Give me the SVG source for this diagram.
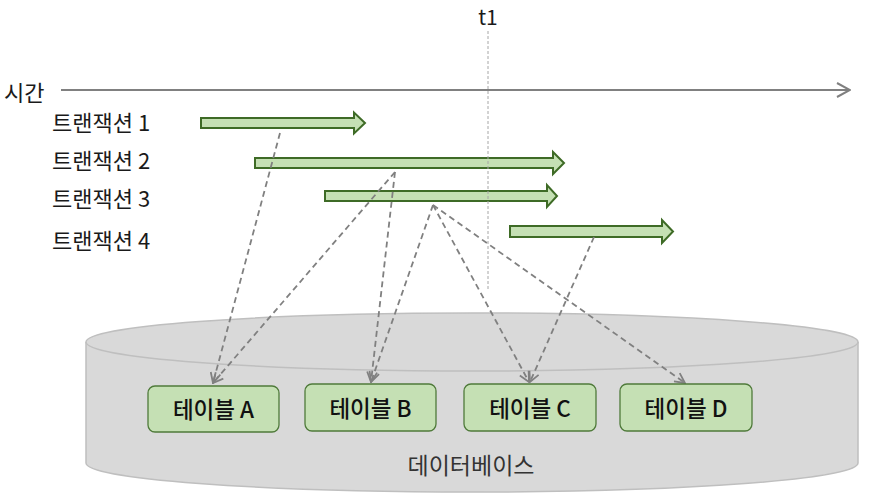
<svg xmlns="http://www.w3.org/2000/svg" width="872" height="498" viewBox="0 0 872 498">
  <style>
    .lbl { font-family: "Noto Sans CJK KR", "Noto Sans", sans-serif; font-size: 22px; fill: #1a1a1a; }
    .tx { fill: #c5e0b4; stroke: #3e6b26; stroke-width: 2; stroke-linejoin: miter; }
    .tbl { fill: #c5e0b4; stroke: #4f7a3a; stroke-width: 1.3; }
    .tbltxt { font-family: "Noto Sans CJK KR", "Noto Sans", sans-serif; font-size: 22.5px; font-weight: 500; fill: #111; text-anchor: middle; }
    .conn { fill: none; stroke: #808080; stroke-width: 1.8; stroke-dasharray: 6 4; }
  </style>
  <defs>
    <marker id="open" viewBox="0 0 12 12" refX="11" refY="6" markerWidth="12" markerHeight="12" markerUnits="userSpaceOnUse" orient="auto">
      <path d="M1,1 L11,6 L1,11" fill="none" stroke="#808080" stroke-width="1.8"/>
    </marker>
    <marker id="axisHead" viewBox="0 0 16 16" refX="15" refY="8" markerWidth="16" markerHeight="16" markerUnits="userSpaceOnUse" orient="auto">
      <path d="M2,1 L15,8 L2,15" fill="none" stroke="#808080" stroke-width="2"/>
    </marker>
  </defs>

  <g id="database">
    <path d="M86,342 L86,463 A386,29 0 0 0 858,463 L858,342" fill="#d9d9d9" stroke="#bfbfbf" stroke-width="1.5"/>
    <ellipse cx="472" cy="342" rx="386" ry="29" fill="#d9d9d9" stroke="#bfbfbf" stroke-width="1.5"/>
    <text x="471" y="474" class="lbl" style="font-size:23px; fill:#333;" text-anchor="middle">데이터베이스</text>
  </g>

  <g id="time-axis">
    <line x1="61" y1="90" x2="850" y2="90" stroke="#808080" stroke-width="2" marker-end="url(#axisHead)"/>
    <text x="4" y="101" class="lbl">시간</text>
  </g>

  <g id="tx1">
    <text x="52" y="131" class="lbl">트랜잭션 1</text>
    <polygon class="tx" points="201,118 354,118 354,112.5 365,123 354,133.5 354,128 201,128"/>
  </g>
  <g id="tx2">
    <text x="52" y="169" class="lbl">트랜잭션 2</text>
    <polygon class="tx" points="255,158 553,158 553,152 564,163 553,174 553,168 255,168"/>
  </g>
  <g id="tx3">
    <text x="52" y="207" class="lbl">트랜잭션 3</text>
    <polygon class="tx" points="325,191 547,191 547,185 557,196 547,207 547,201 325,201"/>
  </g>
  <g id="tx4">
    <text x="52" y="249" class="lbl">트랜잭션 4</text>
    <polygon class="tx" points="510,226 662,226 662,220 673,231.5 662,243 662,237 510,237"/>
  </g>

  <g id="t1">
    <text x="488" y="25" class="lbl" style="font-size:21px" text-anchor="middle">t1</text>
    <line x1="488" y1="31" x2="488" y2="289" stroke="#a6a6a6" stroke-width="1" stroke-dasharray="3 2"/>
  </g>

  <g id="connectors">
    <line class="conn" x1="280" y1="133" x2="213" y2="383" marker-end="url(#open)"/>
    <line class="conn" x1="395" y1="172" x2="213" y2="383" marker-end="url(#open)"/>
    <line class="conn" x1="395" y1="172" x2="371" y2="382" marker-end="url(#open)"/>
    <line class="conn" x1="433" y1="205" x2="371" y2="382" marker-end="url(#open)"/>
    <line class="conn" x1="433" y1="205" x2="529" y2="382" marker-end="url(#open)"/>
    <line class="conn" x1="433" y1="205" x2="685" y2="383" marker-end="url(#open)"/>
    <line class="conn" x1="594" y1="237" x2="530" y2="382" marker-end="url(#open)"/>
  </g>

  <g id="table-a">
    <rect class="tbl" x="148" y="386" width="131" height="46" rx="7"/>
    <text class="tbltxt" x="213.5" y="418">테이블 A</text>
  </g>
  <g id="table-b">
    <rect class="tbl" x="305" y="384" width="131" height="47" rx="7"/>
    <text class="tbltxt" x="370.5" y="417">테이블 B</text>
  </g>
  <g id="table-c">
    <rect class="tbl" x="464" y="384" width="132" height="47" rx="7"/>
    <text class="tbltxt" x="530" y="417">테이블 C</text>
  </g>
  <g id="table-d">
    <rect class="tbl" x="620" y="384" width="132" height="47" rx="7"/>
    <text class="tbltxt" x="686" y="417">테이블 D</text>
  </g>
</svg>
